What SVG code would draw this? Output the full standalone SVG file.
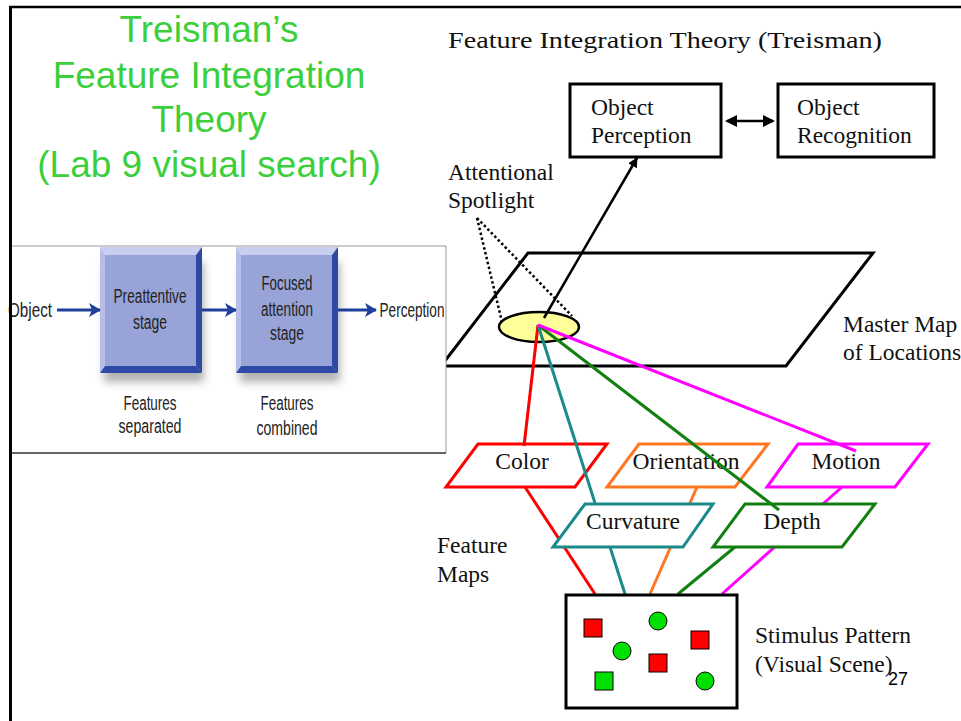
<svg xmlns="http://www.w3.org/2000/svg" width="961" height="721" viewBox="0 0 961 721">
<defs>
<style>
.serif{font-family:"Liberation Serif","Times New Roman",serif;font-size:23.5px;fill:#111}
.green{font-family:"Liberation Sans",Arial,sans-serif;font-size:37px;fill:#3ccf3c;text-anchor:middle}
.ins{font-family:"Liberation Sans Narrow","Liberation Sans",Arial,sans-serif;font-size:20px;fill:#222;text-anchor:middle}
.blk{fill:none;stroke:#000;stroke-width:3}
.fm{fill:#fff;stroke-width:3}
.sq{stroke:#000;stroke-width:1}
.bl{stroke:#1f3f99;stroke-width:3;fill:none}
</style>
<marker id="ah" markerWidth="10" markerHeight="10" refX="9" refY="5" orient="auto" markerUnits="userSpaceOnUse" viewBox="0 0 10 10">
<path d="M0,0 L10,5 L0,10 z" fill="#000"/>
</marker>
<marker id="ahb" markerWidth="12" markerHeight="12" refX="10" refY="6" orient="auto-start-reverse" markerUnits="userSpaceOnUse" viewBox="0 0 12 12">
<path d="M0,0 L12,6 L0,12 z" fill="#000"/>
</marker>
<marker id="bah" markerWidth="12" markerHeight="14" refX="11" refY="7" orient="auto" markerUnits="userSpaceOnUse" viewBox="0 0 12 14">
<path d="M0,0 L12,7 L0,14 L3,7 z" fill="#1f3f99"/>
</marker>
<filter id="sh" x="-20%" y="-20%" width="140%" height="160%">
<feGaussianBlur stdDeviation="4"/>
</filter>
</defs>
<rect width="961" height="721" fill="#fff"/>

<g id="left-title">
<text class="green" x="209" y="42">Treisman’s</text>
<text class="green" x="209" y="88">Feature Integration</text>
<text class="green" x="209" y="132">Theory</text>
<text class="green" x="209" y="177">(Lab 9 visual search)</text>
</g>

<g id="fit-title">
<text class="serif" x="448" y="48" font-size="26" textLength="434" lengthAdjust="spacingAndGlyphs">Feature Integration Theory (Treisman)</text>
</g>

<g id="master-map">
<polygon class="blk" points="528,253 873,253 786,366 441,366"/>
<text class="serif" x="843" y="332">Master Map</text>
<text class="serif" x="843" y="360">of Locations</text>
</g>

<g id="connectors-lower" fill="none" stroke-width="3">
<line x1="525" y1="487" x2="595" y2="594" stroke="#ff0000"/>
<line x1="610" y1="547" x2="625" y2="594" stroke="#1a8a8a"/>
<line x1="697" y1="487" x2="650" y2="594" stroke="#ff7722"/>
<line x1="735" y1="547" x2="678" y2="594" stroke="#118011"/>
<line x1="842" y1="487" x2="722" y2="594" stroke="#ff00ff"/>
</g>

<g id="color-map">
<polygon class="fm" stroke="#ff0000" points="478,444 607,444 575,487 446,487"/>
<text class="serif" x="522" y="469" text-anchor="middle">Color</text>
</g>
<g id="orientation-map">
<polygon class="fm" stroke="#ff7722" points="639,444 768,444 735,487 607,487"/>
<text class="serif" x="686" y="469" text-anchor="middle">Orientation</text>
</g>
<g id="motion-map">
<polygon class="fm" stroke="#ff00ff" points="798,444 928,444 895,487 767,487"/>
<text class="serif" x="846" y="469" text-anchor="middle">Motion</text>
</g>
<g id="curvature-map">
<polygon class="fm" stroke="#1a8a8a" points="585,504 713,504 683,547 553,547"/>
<text class="serif" x="633" y="529" text-anchor="middle">Curvature</text>
</g>
<g id="depth-map">
<polygon class="fm" stroke="#118011" points="745,504 875,504 842,547 713,547"/>
<text class="serif" x="792" y="529" text-anchor="middle">Depth</text>
</g>

<g id="spotlight">
<ellipse cx="539" cy="327" rx="40" ry="15" fill="#ffff99" stroke="#000" stroke-width="2.5"/>
<text class="serif" x="448" y="180">Attentional</text>
<text class="serif" x="448" y="208">Spotlight</text>
</g>

<g id="connectors-upper" fill="none">
<line x1="477" y1="218" x2="502" y2="322" stroke="#000" stroke-width="2.5" stroke-dasharray="2.5,2.5"/>
<line x1="477" y1="218" x2="572" y2="316" stroke="#000" stroke-width="2.5" stroke-dasharray="2.5,2.5"/>
<line x1="544" y1="318" x2="637" y2="158" stroke="#000" stroke-width="2.5" marker-end="url(#ah)"/>
<line x1="727" y1="121" x2="773" y2="121" stroke="#000" stroke-width="2.5" marker-start="url(#ahb)" marker-end="url(#ahb)"/>
<line x1="538" y1="325" x2="524" y2="446" stroke="#ff0000" stroke-width="3"/>
<line x1="538" y1="325" x2="595" y2="503" stroke="#1a8a8a" stroke-width="3"/>
<line x1="538" y1="325" x2="779" y2="510" stroke="#118011" stroke-width="3"/>
<line x1="538" y1="325" x2="856" y2="451" stroke="#ff00ff" stroke-width="3"/>
</g>

<g id="object-perception">
<rect class="blk" x="570" y="84" width="151" height="73"/>
<text class="serif" x="591" y="115">Object</text>
<text class="serif" x="591" y="143">Perception</text>
</g>
<g id="object-recognition">
<rect class="blk" x="778" y="84" width="156" height="73"/>
<text class="serif" x="797" y="115">Object</text>
<text class="serif" x="797" y="143">Recognition</text>
</g>

<g id="feature-maps-label">
<text class="serif" x="437" y="553">Feature</text>
<text class="serif" x="437" y="582">Maps</text>
</g>

<g id="stimulus">
<rect class="blk" x="566" y="595" width="171" height="113"/>
<rect class="sq" x="584" y="619" width="18" height="18" fill="#ff0000"/>
<rect class="sq" x="691" y="631" width="18" height="18" fill="#ff0000"/>
<rect class="sq" x="649" y="654" width="18" height="18" fill="#ff0000"/>
<rect class="sq" x="595" y="672" width="18" height="18" fill="#00e000"/>
<circle class="sq" cx="658" cy="621" r="9" fill="#00e000"/>
<circle class="sq" cx="622" cy="651" r="9" fill="#00e000"/>
<circle class="sq" cx="705" cy="681" r="9" fill="#00e000"/>
<text class="serif" x="755" y="643">Stimulus Pattern</text>
<text class="serif" x="755" y="672">(Visual Scene)</text>
</g>
<text x="888" y="685" font-family="Liberation Sans,Arial,sans-serif" font-size="18" fill="#000">27</text>

<g id="inset">
<rect x="10" y="246" width="436" height="207" fill="#fff"/>
<line x1="10" y1="246" x2="446" y2="246" stroke="#999" stroke-width="1"/>
<line x1="446" y1="246" x2="446" y2="453" stroke="#999" stroke-width="1"/>
<line x1="10" y1="453" x2="446" y2="453" stroke="#333" stroke-width="1.5"/>
</g>
<g id="preattentive-stage">
<rect x="104" y="262" width="100" height="120" fill="#555" opacity="0.45" filter="url(#sh)"/>
<polygon points="100,247 202,247 196,255 105,255" fill="#c8ceef"/>
<polygon points="100,247 105,255 105,366 100,373" fill="#b7bfe9"/>
<polygon points="202,247 202,373 196,366 196,255" fill="#2f48a0"/>
<polygon points="100,373 202,373 196,366 105,366" fill="#2d4aa6"/>
<rect x="105" y="255" width="91" height="111" fill="#98a4d8"/>
<text class="ins" x="150" y="303" textLength="73" lengthAdjust="spacingAndGlyphs">Preattentive</text>
<text class="ins" x="150" y="329" textLength="34" lengthAdjust="spacingAndGlyphs">stage</text>
</g>
<g id="focused-stage">
<rect x="240" y="262" width="100" height="120" fill="#555" opacity="0.45" filter="url(#sh)"/>
<polygon points="236,247 338,247 332,255 241,255" fill="#c8ceef"/>
<polygon points="236,247 241,255 241,366 236,373" fill="#b7bfe9"/>
<polygon points="338,247 338,373 332,366 332,255" fill="#2f48a0"/>
<polygon points="236,373 338,373 332,366 241,366" fill="#2d4aa6"/>
<rect x="241" y="255" width="91" height="111" fill="#98a4d8"/>
<text class="ins" x="287" y="290" textLength="51" lengthAdjust="spacingAndGlyphs">Focused</text>
<text class="ins" x="287" y="316" textLength="52" lengthAdjust="spacingAndGlyphs">attention</text>
<text class="ins" x="287" y="340" textLength="34" lengthAdjust="spacingAndGlyphs">stage</text>
</g>
<g id="inset-labels">
<text class="ins" x="30" y="317" textLength="44" lengthAdjust="spacingAndGlyphs">Object</text>
<text class="ins" x="412" y="317" textLength="65" lengthAdjust="spacingAndGlyphs">Perception</text>
<text class="ins" x="150" y="410" textLength="53" lengthAdjust="spacingAndGlyphs">Features</text>
<text class="ins" x="150" y="433" textLength="63" lengthAdjust="spacingAndGlyphs">separated</text>
<text class="ins" x="287" y="410" textLength="53" lengthAdjust="spacingAndGlyphs">Features</text>
<text class="ins" x="287" y="435" textLength="61" lengthAdjust="spacingAndGlyphs">combined</text>
</g>
<g id="inset-connectors">
<line class="bl" x1="57" y1="310" x2="100" y2="310" marker-end="url(#bah)"/>
<line class="bl" x1="202" y1="310" x2="236" y2="310" marker-end="url(#bah)"/>
<line class="bl" x1="338" y1="310" x2="376" y2="310" marker-end="url(#bah)"/>
</g>

<g id="frame" fill="none" stroke="#000">
<line x1="10.5" y1="6" x2="10.5" y2="721" stroke-width="3"/>
<line x1="9" y1="7" x2="961" y2="7" stroke-width="2.5"/>
</g>
</svg>
